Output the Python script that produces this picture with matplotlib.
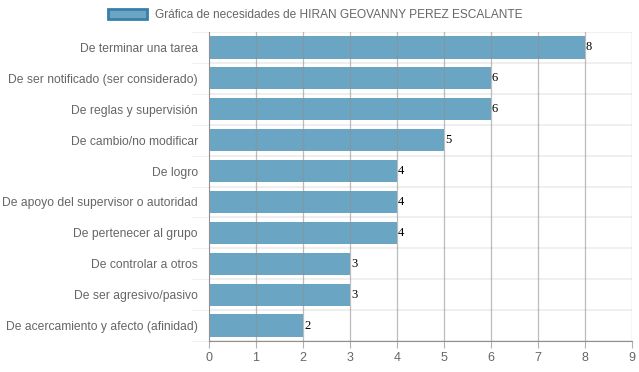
import numpy as np
import matplotlib
matplotlib.use('Agg')
import matplotlib.pyplot as plt
from matplotlib.patches import Patch

categories = [
    'De terminar una tarea',
    'De ser notificado (ser considerado)',
    'De reglas y supervisión',
    'De cambio/no modificar',
    'De logro',
    'De apoyo del supervisor o autoridad',
    'De pertenecer al grupo',
    'De controlar a otros',
    'De ser agresivo/pasivo',
    'De acercamiento y afecto (afinidad)',
]
values = [8, 6, 6, 5, 4, 4, 4, 3, 3, 2]
x_ticks = list(range(0, 10))
legend_label = 'Gráfica de necesidades de HIRAN GEOVANNY PEREZ ESCALANTE'

bar_color = '#6aa6c4'
edge_color = '#3a7fa8'
label_gray = '#666666'

plt.rcParams['font.family'] = ['Liberation Sans', 'DejaVu Sans']

fig = plt.figure(figsize=(6.39, 3.72), dpi=100)
ax = fig.add_axes([209/639, 1 - 341/372, (632 - 209)/639, (341 - 32)/372])

n = len(categories)
y = np.arange(n)
ax.barh(y, values, height=0.72, color=bar_color, zorder=2)

for yi, v in zip(y, values):
    ax.text(v + 0.02, yi, str(v), va='center', ha='left', fontsize=9,
            family='Liberation Serif', color='black', zorder=4)

ax.set_xlim(0, 9)
ax.set_ylim(n - 0.5, -0.5)
ax.set_xticks(x_ticks)
ax.set_xticklabels([str(t) for t in x_ticks], color=label_gray, fontsize=9)
ax.set_yticks(y)
ax.set_yticklabels(categories, color=label_gray, fontsize=8.7)
ax.tick_params(axis='y', length=0, pad=8)
ax.tick_params(axis='x', length=5, color='#b0b0b0', pad=3)

# vertical grid
for t in x_ticks[1:]:
    ax.axvline(t, color='#909090', lw=0.9, alpha=0.6, zorder=3)
# horizontal separators between rows
ax.set_yticks(np.arange(-0.5, n + 0.5, 1), minor=True)
ax.tick_params(axis='y', which='minor', length=12, color='#ececec')
ax.grid(True, axis='y', which='minor', color='#ececec', lw=1.2, zorder=0)

for s in ['top', 'right']:
    ax.spines[s].set_visible(False)
ax.spines['left'].set_color('#909090')
ax.spines['bottom'].set_color('#909090')
ax.spines['left'].set_zorder(3)

handle = Patch(facecolor=bar_color, edgecolor=edge_color, linewidth=2)
fig.legend([handle], [legend_label], loc='upper center', bbox_to_anchor=(0.493, 1.005),
           frameon=False, fontsize=8.6, handlelength=3.3, handleheight=0.9,
           handletextpad=0.6, labelcolor=label_gray)

fig.savefig('out.png', dpi=100)
